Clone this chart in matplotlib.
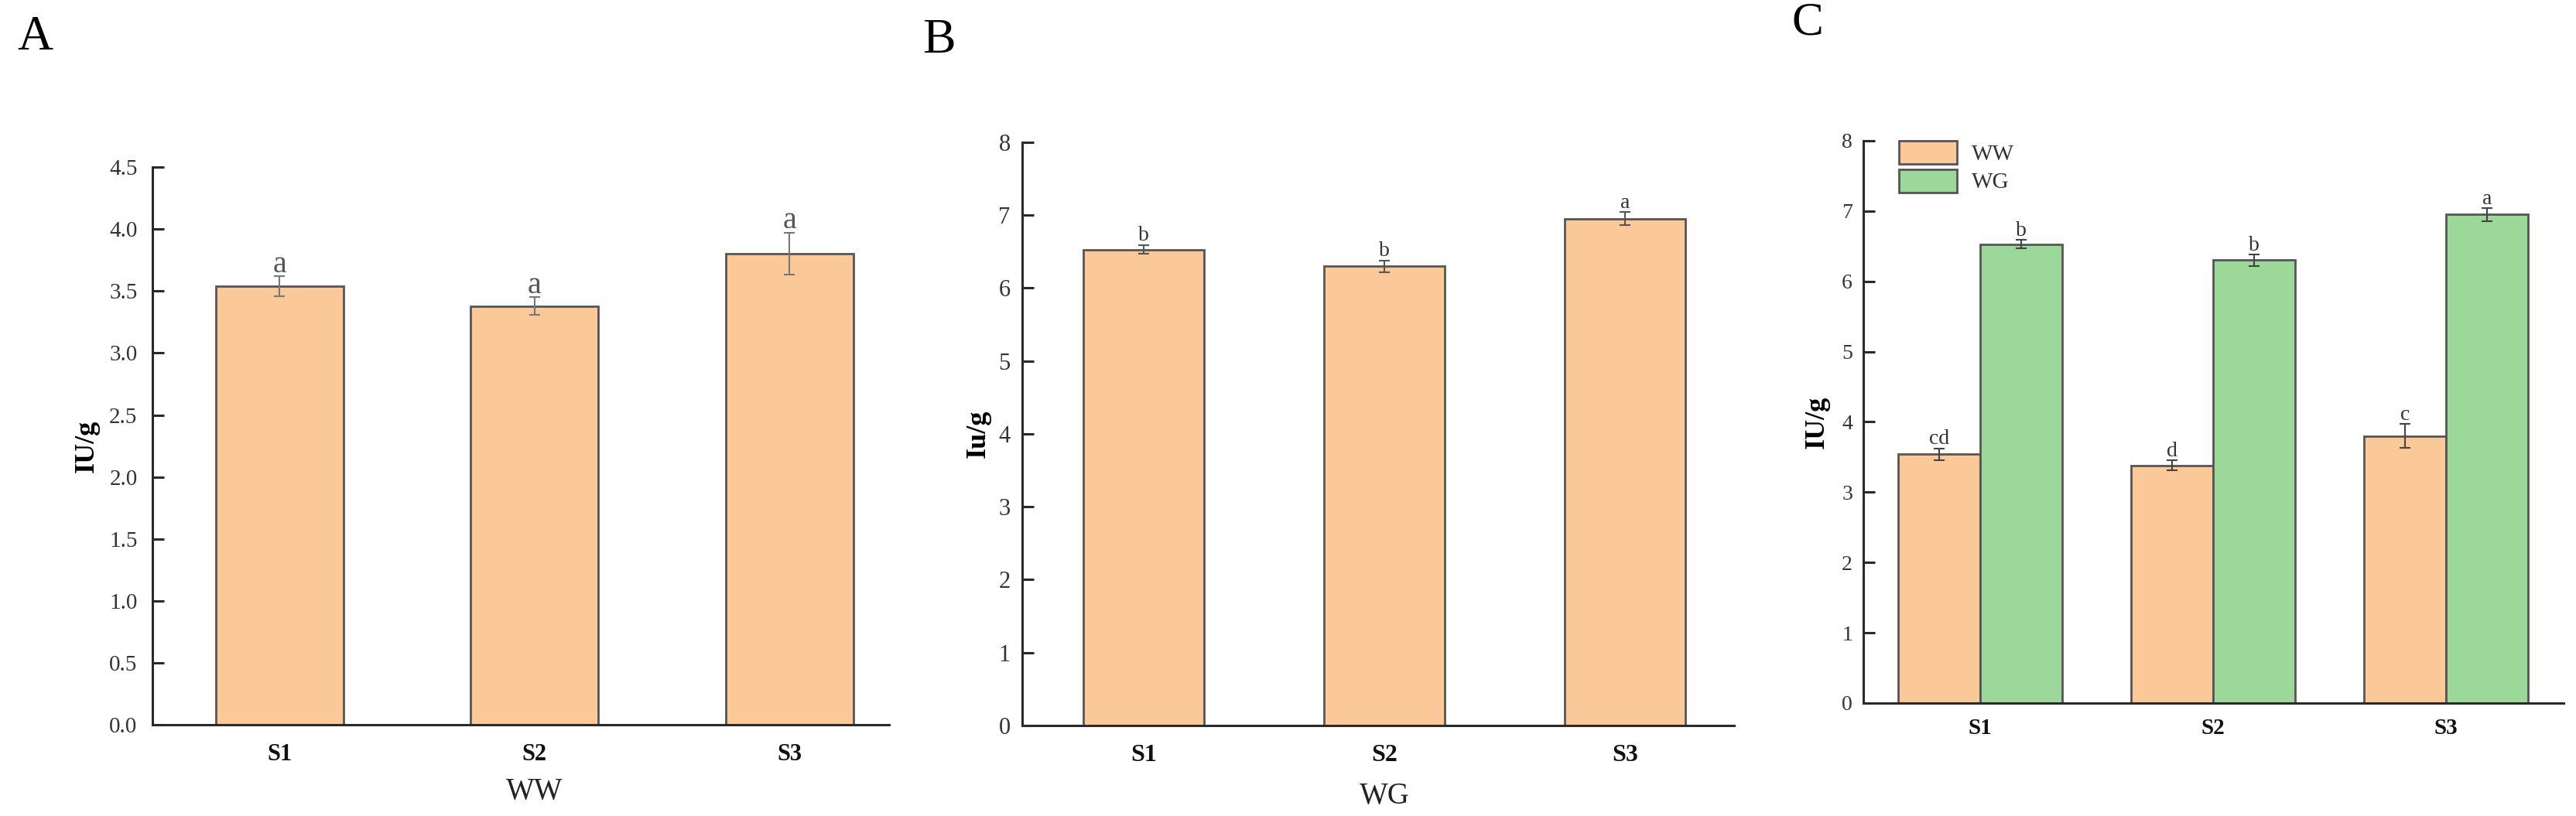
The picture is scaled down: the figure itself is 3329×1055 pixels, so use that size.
import matplotlib
matplotlib.use('Agg')
import matplotlib.pyplot as plt
import numpy as np

plt.rcParams['font.family'] = ['Liberation Serif', 'DejaVu Serif']

sites = ['S1', 'S2', 'S3']
ww_mean = [3.54, 3.38, 3.80]
ww_err = [0.08, 0.07, 0.17]
ww_letters_a = ['a', 'a', 'a']
ww_letters_c = ['cd', 'd', 'c']
wg_mean = [6.53, 6.30, 6.95]
wg_err = [0.06, 0.08, 0.09]
wg_letters_b = ['b', 'b', 'a']
wg_letters_c = ['b', 'b', 'a']

ORANGE = '#fbc898'
GREEN = '#9dd89b'
EDGE = '#555555'
AXIS = '#2a2a2a'


def style_axes(ax, tick_size, ytick_pad, xtick_pad):
    for side in ['top', 'right']:
        ax.spines[side].set_visible(False)
    for side in ['left', 'bottom']:
        ax.spines[side].set_linewidth(2.2)
        ax.spines[side].set_color(AXIS)
    ax.tick_params(axis='y', direction='in', length=11, width=2.2,
                   color=AXIS, labelsize=tick_size, labelcolor='#333333',
                   pad=ytick_pad)
    ax.tick_params(axis='x', length=0, labelsize=tick_size + 1,
                   labelcolor='#111111', pad=xtick_pad)
    for lab in ax.get_xticklabels():
        lab.set_fontweight('bold')


def add_letters(ax, xs, means, errs, letters, size, color):
    for x, m, e, t in zip(xs, means, errs, letters):
        ax.annotate(t, (x, m + e), xytext=(0, 4), textcoords='offset points',
                    ha='center', va='baseline', fontsize=size, color=color)


fig = plt.figure(figsize=(33.29, 10.55), dpi=100)
x = np.arange(len(sites))

# panel A
ax_a = fig.add_axes([0.05918, 0.1118, 0.28597, 0.6834])
ax_a.bar(x, ww_mean, width=0.5, color=ORANGE, edgecolor=EDGE, linewidth=2)
ax_a.errorbar(x, ww_mean, yerr=ww_err, fmt='none', ecolor='#777777',
              elinewidth=1.5, capsize=5, capthick=1.5)
ax_a.set_xlim(-0.498, 2.39)
ax_a.set_ylim(0, 4.5)
ax_a.set_yticks(np.arange(0, 4.51, 0.5))
ax_a.set_yticklabels([f'{v:.1f}' for v in np.arange(0, 4.51, 0.5)])
ax_a.set_xticks(x)
ax_a.set_xticklabels(sites)
style_axes(ax_a, 21, 14, 17)
ax_a.set_ylabel('IU/g', fontsize=26, fontweight='bold')
ax_a.yaxis.set_label_coords(-0.072, 0.5)
ax_a.text(1, -0.12, 'WW', transform=ax_a.get_xaxis_transform(),
          ha='center', va='center', fontsize=28, color='#222222')
add_letters(ax_a, x, ww_mean, ww_err, ww_letters_a, 29, '#555555')

# panel B
ax_b = fig.add_axes([0.39681, 0.1109, 0.27636, 0.7147])
ax_b.bar(x, wg_mean, width=0.5, color=ORANGE, edgecolor=EDGE, linewidth=2)
ax_b.errorbar(x, wg_mean, yerr=wg_err, fmt='none', ecolor='#555555',
              elinewidth=1.5, capsize=5, capthick=1.5)
ax_b.set_xlim(-0.505, 2.453)
ax_b.set_ylim(0, 8)
ax_b.set_yticks(range(0, 9))
ax_b.set_xticks(x)
ax_b.set_xticklabels(sites)
style_axes(ax_b, 22, 11, 17)
ax_b.set_ylabel('Iu/g', fontsize=26, fontweight='bold')
ax_b.yaxis.set_label_coords(-0.044, 0.5)
ax_b.text(1, -0.122, 'WG', transform=ax_b.get_xaxis_transform(),
          ha='center', va='center', fontsize=28, color='#222222')
add_letters(ax_b, x, wg_mean, wg_err, wg_letters_b, 20, '#333333')

# panel C
w = 0.352
ax_c = fig.add_axes([0.72334, 0.1384, 0.27185, 0.6891])
ax_c.bar(x - w / 2, ww_mean, width=w, color=ORANGE, edgecolor=EDGE,
         linewidth=2, label='WW')
ax_c.bar(x + w / 2, wg_mean, width=w, color=GREEN, edgecolor=EDGE,
         linewidth=2, label='WG')
ax_c.errorbar(x - w / 2, ww_mean, yerr=ww_err, fmt='none', ecolor='#444444',
              elinewidth=1.5, capsize=5, capthick=1.5)
ax_c.errorbar(x + w / 2, wg_mean, yerr=wg_err, fmt='none', ecolor='#444444',
              elinewidth=1.5, capsize=5, capthick=1.5)
ax_c.set_xlim(-0.50, 2.505)
ax_c.set_ylim(0, 8)
ax_c.set_yticks(range(0, 9))
ax_c.set_xticks(x)
ax_c.set_xticklabels(sites)
style_axes(ax_c, 20, 10, 14)
ax_c.set_ylabel('IU/g', fontsize=26, fontweight='bold')
ax_c.yaxis.set_label_coords(-0.048, 0.5)
add_letters(ax_c, x - w / 2, ww_mean, ww_err, ww_letters_c, 20, '#333333')
add_letters(ax_c, x + w / 2, wg_mean, wg_err, wg_letters_c, 20, '#333333')
ax_c.legend(loc='upper left', bbox_to_anchor=(0.051, 1.0), frameon=False,
            fontsize=21, handlelength=2.55, handleheight=1.2,
            labelspacing=0.2, handletextpad=0.65, borderpad=0,
            borderaxespad=0, labelcolor='#333333')

# panel letters
fig.text(22 / 3329, 1 - 20 / 1055, 'A', fontsize=46, ha='left', va='top')
fig.text(1192 / 3329, 1 - 24 / 1055, 'B', fontsize=46, ha='left', va='top')
fig.text(2316 / 3329, 1 - 2 / 1055, 'C', fontsize=44, ha='left', va='top')

fig.savefig('out.png', dpi=100, facecolor='white')
